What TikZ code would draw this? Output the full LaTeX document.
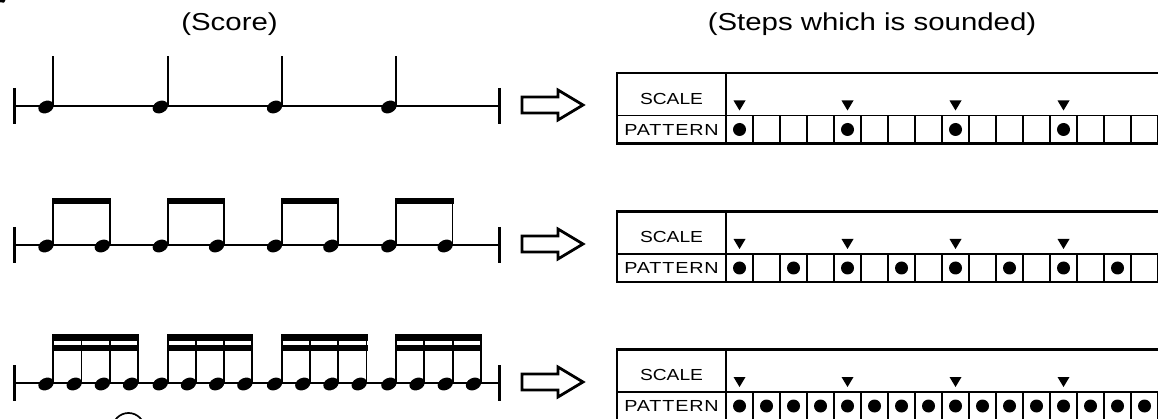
\documentclass[tikz,border=0pt]{standalone}
\usepackage{fontspec}
\setmainfont{Liberation Sans}[FakeStretch=1.2]
\begin{document}
\begin{tikzpicture}[x=1pt,y=-1pt,
  staffline/.style={line width=2pt},
  barline/.style={line width=2.4pt},
  stem/.style={line width=1.9pt},
  tabframe/.style={line width=2.2pt},
  tabgrid/.style={line width=1.8pt},
  hollowarrow/.style={line width=2.8pt, line join=miter},
  header/.style={font=\fontsize{24.5}{26}\selectfont, inner sep=0pt},
  tablabel/.style={font=\fontsize{16}{18}\selectfont, inner sep=0pt},
  notehead/.style={fill=black},
  notebeam/.style={fill=black}]
\useasboundingbox (0,0) rectangle (1158,419);
\clip (0,0) rectangle (1158,419);

% column headings
\node[header, anchor=base] (hdscore) at (229.5,31) {(Score)};
\node[header, anchor=base] (hdsteps) at (872,31) {(Steps which is sounded)};

% quarter notes
\draw[staffline] (14.5,106) -- (499.5,106);
\draw[barline] (14.5,88) -- (14.5,124);
\draw[barline] (499.5,88) -- (499.5,124);
\foreach \g in {0,...,3} {
  \pgfmathsetmacro\hx{46+114.3*\g}
  \fill[notehead, rotate around={25:(\hx,107)}] (\hx,107) ellipse [x radius=8, y radius=6];
  \draw[stem] (\hx+7.3,105) -- (\hx+7.3,56);
}

% eighth notes
\draw[staffline] (14.5,245) -- (499.5,245);
\draw[barline] (14.5,227) -- (14.5,263);
\draw[barline] (499.5,227) -- (499.5,263);
\foreach \g in {0,...,3} {
  \pgfmathsetmacro\ha{46+114.3*\g}
  \pgfmathsetmacro\hb{\ha+56.3}
  \foreach \h in {\ha,\hb} {
    \fill[notehead, rotate around={25:(\h,246)}] (\h,246) ellipse [x radius=8, y radius=6];
    \draw[stem] (\h+7.3,244) -- (\h+7.3,199);
  }
  \fill[notebeam] (\ha+6.3,198) rectangle (\hb+8.3,204);
}

% sixteenth notes
\draw[staffline] (14.5,383) -- (499.5,383);
\draw[barline] (14.5,365) -- (14.5,401);
\draw[barline] (499.5,365) -- (499.5,401);
\foreach \g in {0,...,3} {
  \pgfmathsetmacro\ha{46+114.3*\g}
  \foreach \k in {0,...,3} {
    \pgfmathsetmacro\h{\ha+28.2*\k}
    \fill[notehead, rotate around={25:(\h,384)}] (\h,384) ellipse [x radius=8, y radius=6];
    \draw[stem] (\h+7.3,382) -- (\h+7.3,335);
  }
  \fill[notebeam] (\ha+6.3,334) rectangle (\ha+84.6+8.3,341);
  \fill[notebeam] (\ha+6.3,344.5) rectangle (\ha+84.6+8.3,351);
}

% hollow arrows
\foreach \c in {105,244,382} {
  \draw[hollowarrow] (522,\c-8) -- (558,\c-8) -- (558,\c-15) -- (583,\c)
    -- (558,\c+15) -- (558,\c+8) -- (522,\c+8) -- cycle;
}

% step tables
\foreach \t/\q/\n in {73/4/1, 211.5/2/2, 349.5/1/3} {
  \pgfmathsetmacro\sep{\t+42.5}
  \pgfmathsetmacro\bot{\t+70.5}
  \draw[tabframe] (1165,\t) -- (617,\t) -- (617,\bot) -- (1165,\bot);
  \draw[tabgrid] (617,\sep) -- (1165,\sep);
  \draw[tabgrid] (726,\t) -- (726,\bot);
  \foreach \i in {1,...,16} {
    \draw[tabgrid] (726+27*\i,\sep) -- (726+27*\i,\bot);
  }
  \node[tablabel] (scale\n) at (671.5,\t+25.5) {SCALE};
  \node[tablabel] (pattern\n) at (671.5,\sep+14) {\scalebox{1.03}[1]{\addfontfeature{LetterSpace=5}PATTERN}};
  \foreach \i in {0,4,8,12} {
    \fill (726+27*\i+13.5-6,\sep-15) -- (726+27*\i+13.5+6,\sep-15) -- (726+27*\i+13.5,\sep-5) -- cycle;
  }
  \foreach \i in {0,\q,...,15} {
    \fill (726+27*\i+13.5,\sep+14) circle [radius=6.5];
  }
}

% fragments at the edges
\fill (0,0) -- (5.5,0) -- (4,2.7) -- (0,2.2) -- cycle;
\draw[line width=1.7pt] (128.5,429) circle [radius=16];
\end{tikzpicture}
\end{document}
